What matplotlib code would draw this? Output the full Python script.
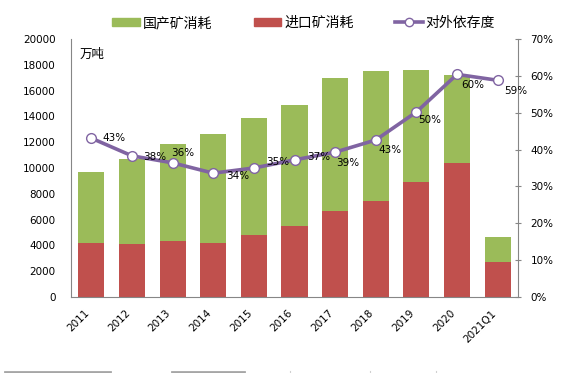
import matplotlib
matplotlib.use('Agg')
from matplotlib import pyplot as plt
from matplotlib.patches import Patch
from matplotlib.lines import Line2D
import numpy as np

plt.rcParams['font.family'] = ['DejaVu Sans', 'Noto Sans CJK SC']

years = ['2011', '2012', '2013', '2014', '2015', '2016', '2017', '2018', '2019', '2020', '2021Q1']
# 万吨
domestic = [5500, 6590, 7520, 8450, 9070, 9380, 10310, 10080, 8690, 6820, 1940]
imported = [4190, 4110, 4340, 4190, 4810, 5500, 6670, 7440, 8910, 10390, 2710]
# 对外依存度 (%)
dependence = [43.1, 38.3, 36.4, 33.6, 35.0, 37.2, 39.3, 42.6, 50.2, 60.4, 58.8]

green = '#9BBB59'
red = '#C0504D'
purple = '#8064A2'
grey = '#868686'

fig = plt.figure(figsize=(5.73, 3.73), dpi=100)
ax = fig.add_axes([71/573, 1-297/373, 447/573, 258/373])
ax2 = ax.twinx()

x = np.arange(len(years))
ax.bar(x, imported, width=0.64, color=red, zorder=2)
ax.bar(x, domestic, width=0.64, bottom=imported, color=green, zorder=2)

ax.set_xlim(-0.5, len(years) - 0.5)
ax.set_ylim(0, 20000)
ax.set_yticks(range(0, 20001, 2000))
ax.set_xticks(x)
ax.set_xticklabels(years, rotation=45, ha='right', fontsize=7.5)
ax.tick_params(axis='x', length=0, pad=8)
ax.tick_params(axis='y', length=0, pad=11, labelsize=7.5)
ax.text(0.02, 0.965, '万吨', transform=ax.transAxes, fontsize=9, va='top')

# dependence line on right axis
ax2.plot(x, dependence, color=purple, lw=2.6, marker='o', ms=7,
         mfc='white', mec=purple, mew=1, zorder=3)
ax2.set_ylim(0, 70)
ax2.set_yticks(range(0, 71, 10))
ax2.set_yticklabels([f'{v}%' for v in range(0, 71, 10)])
ax2.tick_params(axis='y', direction='inout', length=4, color=grey, pad=7, labelsize=7.5)

# label offsets in points, one per point
offsets = [(8, 0), (8, -1), (-1, 7), (9, -2), (9, 4), (9, 2), (1, -8), (2, -7), (1, -6), (3, -8), (5, -8)]
for i, v in enumerate(dependence):
    ax2.annotate(f'{v:.0f}%', (x[i], v), xytext=offsets[i], textcoords='offset points',
                 fontsize=7.5, ha='left', va='center', zorder=4)

for a in (ax, ax2):
    a.spines['top'].set_visible(False)
    for s in ('left', 'right', 'bottom'):
        a.spines[s].set_color(grey)
ax.spines['right'].set_visible(False)
ax2.spines['left'].set_visible(False)
ax2.spines['bottom'].set_visible(False)

handles = [Patch(color=green), Patch(color=red),
           Line2D([], [], color=purple, lw=2.6, marker='o', ms=6, mfc='white', mec=purple)]
fig.legend(handles, ['国产矿消耗', '进口矿消耗', '对外依存度'], loc='center left',
           bbox_to_anchor=(112/573, 1-23/373), ncol=3, frameon=False, fontsize=9,
           handlelength=2.0, handleheight=0.55, handletextpad=0.2, columnspacing=3.0,
           borderpad=0, borderaxespad=0, prop={'family': ['Noto Sans CJK SC']})

# grey strips left at the bottom edge
fig.add_artist(Line2D([5/573, 110/573], [1.5/373, 1.5/373], color='#a6a6a6', lw=2))
fig.add_artist(Line2D([172/573, 244/573], [1.5/373, 1.5/373], color='#a6a6a6', lw=2))
for px in (290, 370, 436):
    fig.add_artist(Line2D([px/573, px/573], [0, 2.5/373], color='#d0d0d0', lw=0.8))

fig.savefig('out.png', dpi=100)
